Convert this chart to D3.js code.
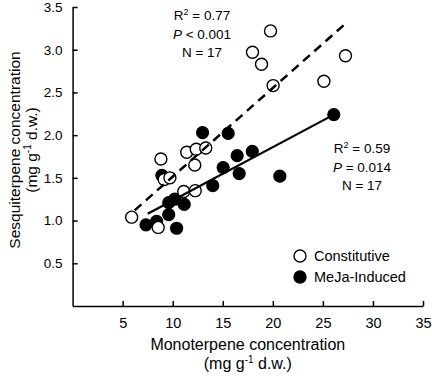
<!DOCTYPE html>
<html>
<head>
<meta charset="utf-8">
<script src="https://cdn.jsdelivr.net/npm/d3@7"></script>
<style>
  body { margin: 0; background: #fff; }
  text { font-family: "Liberation Sans", Arial, sans-serif; fill: #000; }
</style>
</head>
<body>
<div id="chart"></div>
<script>
/* DATA */
const constitutiveX = [5.9, 8.55, 8.82, 9.15, 9.72, 11.1, 12.25, 12.2, 11.4, 12.35, 13.3, 17.97, 18.87, 19.77, 20.03, 25.1, 27.26];
const constitutiveY = [1.04, 0.92, 1.72, 1.48, 1.50, 1.34, 1.35, 1.65, 1.80, 1.835, 1.85, 2.97, 2.83, 3.22, 2.58, 2.63, 2.93];
const inducedX = [7.33, 8.39, 8.92, 9.6, 10.39, 9.6, 10.2, 11.15, 12.98, 14.0, 15.04, 15.54, 16.44, 16.64, 17.95, 20.7, 26.09];
const inducedY = [0.95, 0.99, 1.53, 1.07, 0.91, 1.21, 1.25, 1.19, 2.03, 1.41, 1.62, 2.02, 1.76, 1.55, 1.81, 1.52, 2.24];

// regression line end points
const constFitX = [6.2, 27.3];
const constFitY = [1.12, 3.31];
const inducedFitX = [7.5, 26.1];
const inducedFitY = [1.08, 2.24];

const xTicks = [5, 10, 15, 20, 25, 30, 35];
const yTicks = [0.5, 1.0, 1.5, 2.0, 2.5, 3.0, 3.5];

const constStats = ["R2 = 0.77", "P < 0.001", "N = 17"];
const inducedStats = ["R2 = 0.59", "P = 0.014", "N = 17"];
const legendLabels = ["Constitutive", "MeJa-Induced"];

/* LAYOUT */
const width = 432, height = 376;
const margin = { top: 7, right: 9, bottom: 70, left: 72.6 };
const r = 6;

const svg = d3.select("#chart").append("svg")
  .attr("width", width)
  .attr("height", height);

const xScale = d3.scaleLinear()
  .domain([0, 35])
  .range([margin.left, width - margin.right]);

const yScale = d3.scaleLinear()
  .domain([0, 3.5])
  .range([height - margin.bottom, margin.top]);

// axes, ticks pointing inward
const xAxis = d3.axisBottom(xScale).tickValues(xTicks).tickSizeInner(-5).tickSizeOuter(0).tickPadding(12);
const yAxis = d3.axisLeft(yScale).tickValues(yTicks).tickSizeInner(-5).tickSizeOuter(0).tickPadding(10)
  .tickFormat(d3.format(".1f"));

const xg = svg.append("g")
  .attr("transform", `translate(0,${height - margin.bottom})`)
  .call(xAxis);
const yg = svg.append("g")
  .attr("transform", `translate(${margin.left},0)`)
  .call(yAxis);

[xg, yg].forEach(g => {
  g.select(".domain").attr("stroke", "#000").attr("stroke-width", 1.5);
  g.selectAll(".tick line").attr("stroke", "#000").attr("stroke-width", 1.5);
  g.selectAll(".tick text").attr("font-family", "Liberation Sans, Arial, sans-serif");
});
xg.selectAll(".tick text").attr("font-size", 14.5);
yg.selectAll(".tick text").attr("font-size", 13.5);

// axis titles
const xt = svg.append("text")
  .attr("x", (margin.left + width - margin.right) / 2)
  .attr("y", 350)
  .attr("text-anchor", "middle")
  .attr("font-size", 16);
xt.text("Monoterpene concentration");

const xt2 = svg.append("text")
  .attr("x", (margin.left + width - margin.right) / 2)
  .attr("y", 369)
  .attr("text-anchor", "middle")
  .attr("font-size", 16);
xt2.append("tspan").text("(mg g");
xt2.append("tspan").attr("dy", -6).attr("font-size", 10).text("-1");
xt2.append("tspan").attr("dy", 6).text(" d.w.)");

const yMid = 150;
svg.append("text")
  .attr("transform", `translate(20,${yMid}) rotate(-90)`)
  .attr("text-anchor", "middle")
  .attr("font-size", 15.5)
  .text("Sesquiterpene concentration");

const yt2 = svg.append("text")
  .attr("transform", `translate(37,${yMid}) rotate(-90)`)
  .attr("text-anchor", "middle")
  .attr("font-size", 15.5);
yt2.append("tspan").text("(mg g");
yt2.append("tspan").attr("dy", -6).attr("font-size", 10).text("-1");
yt2.append("tspan").attr("dy", 6).text(" d.w.)");

// points: filled first, open on top
const induced = inducedX.map((x, i) => ({ x, y: inducedY[i] }));
const constitutive = constitutiveX.map((x, i) => ({ x, y: constitutiveY[i] }));

svg.append("g").selectAll("circle")
  .data(induced)
  .join("circle")
  .attr("cx", d => xScale(d.x))
  .attr("cy", d => yScale(d.y))
  .attr("r", r)
  .attr("fill", "#000")
  .attr("stroke", "#000")
  .attr("stroke-width", 1.2);

svg.append("g").selectAll("circle")
  .data(constitutive)
  .join("circle")
  .attr("cx", d => xScale(d.x))
  .attr("cy", d => yScale(d.y))
  .attr("r", r)
  .attr("fill", "#fff")
  .attr("stroke", "#000")
  .attr("stroke-width", 1.4);

// regression lines
const line = d3.line().x(d => xScale(d[0])).y(d => yScale(d[1]));

svg.append("path")
  .attr("d", line(constFitX.map((x, i) => [x, constFitY[i]])))
  .attr("fill", "none")
  .attr("stroke", "#000")
  .attr("stroke-width", 2.5)
  .attr("stroke-dasharray", "9,6");

svg.append("path")
  .attr("d", line(inducedFitX.map((x, i) => [x, inducedFitY[i]])))
  .attr("fill", "none")
  .attr("stroke", "#000")
  .attr("stroke-width", 2.2);

// stats text
function statBlock(lines, cx, y0) {
  lines.forEach((s, i) => {
    const t = svg.append("text")
      .attr("x", cx)
      .attr("y", y0 + i * 18.5)
      .attr("text-anchor", "middle")
      .attr("font-size", 13.5);
    if (s.startsWith("R2")) {
      t.append("tspan").text("R");
      t.append("tspan").attr("dy", -5).attr("font-size", 9).text("2");
      t.append("tspan").attr("dy", 5).text(s.slice(2));
    } else if (s.startsWith("P")) {
      t.append("tspan").attr("font-style", "italic").text("P");
      t.append("tspan").text(s.slice(1));
    } else {
      t.text(s);
    }
  });
}
statBlock(constStats, 202, 20);
statBlock(inducedStats, 362, 153);

// legend
const legend = svg.append("g").attr("transform", "translate(300,256)");
legendLabels.forEach((lab, i) => {
  legend.append("circle")
    .attr("cx", 0)
    .attr("cy", i * 21)
    .attr("r", r)
    .attr("fill", i === 0 ? "#fff" : "#000")
    .attr("stroke", "#000")
    .attr("stroke-width", 1.4);
  legend.append("text")
    .attr("x", 14)
    .attr("y", i * 21 + 5)
    .attr("font-size", 14.5)
    .text(lab);
});
</script>
</body>
</html>
